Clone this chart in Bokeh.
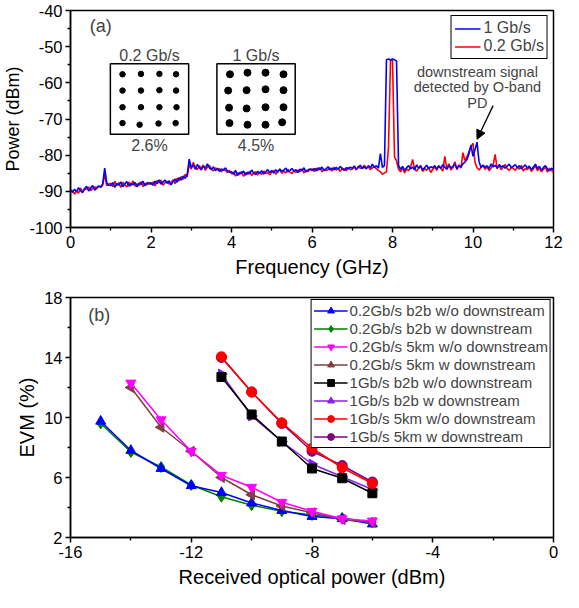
import numpy as np
from bokeh.plotting import figure
from bokeh.models import (Range1d, Legend, LegendItem, Label, Arrow, NormalHead, FixedTicker,
                          BoxAnnotation, PrintfTickFormatter)
from bokeh.layouts import column
from bokeh.embed import file_html
from bokeh.resources import INLINE

FONT = "Liberation Sans"

# ---------------- panel (a) data ----------------
freq_start, freq_step = 0.0, 0.05
blue_1g = [
    -89.6,-90.3,-89.4,-90.1,-89.0,-89.8,-90.4,-89.2,-88.6,-89.9,-89.1,-88.4,-89.7,-88.9,-88.5,-88.8,-87.9,-83.6,-87.6,-88.3,
    -88.4,-87.6,-88.9,-87.9,-88.3,-87.4,-88.7,-88.0,-87.3,-88.6,-87.8,-88.2,-87.5,-88.8,-87.7,-88.1,-87.2,-88.5,-87.6,-88.0,
    -87.6,-88.3,-87.2,-87.9,-86.8,-88.0,-87.4,-86.9,-87.8,-87.1,-88.2,-87.3,-86.6,-87.5,-86.2,-86.9,-85.8,-86.4,-85.3,-81.1,
    -83.4,-82.7,-83.9,-82.6,-83.4,-84.1,-83.0,-83.7,-82.4,-83.5,-84.0,-83.2,-84.3,-83.6,-84.5,-83.8,-84.2,-83.5,-84.4,-84.7,
    -84.6,-85.3,-84.2,-85.6,-84.8,-85.1,-84.4,-85.5,-84.7,-85.2,-84.1,-84.9,-85.4,-84.5,-85.0,-84.3,-85.2,-84.6,-84.0,-84.8,
    -84.3,-84.9,-84.0,-84.7,-83.8,-84.5,-84.1,-83.6,-84.6,-84.2,-83.7,-84.4,-84.0,-84.8,-83.9,-84.3,-83.5,-84.6,-84.1,-83.8,
    -84.2,-83.7,-84.4,-83.5,-84.0,-83.3,-84.3,-83.8,-83.2,-84.1,-83.6,-84.0,-83.4,-83.9,-83.1,-83.7,-84.2,-83.5,-83.8,-83.3,
    -83.6,-83.0,-83.9,-83.4,-82.8,-83.7,-83.2,-83.8,-82.9,-83.5,-82.5,-83.4,-82.9,-83.6,-79.6,-83.4,-82.9,-53.6,-53.4,-53.7,
    -53.4,-53.6,-54.0,-82.8,-83.9,-83.1,-84.2,-83.5,-82.9,-83.8,-83.3,-84.0,-82.7,-83.6,-83.1,-84.1,-83.4,-82.8,-83.7,-83.2,
    -83.5,-82.9,-83.8,-83.0,-83.6,-82.6,-83.4,-83.9,-82.8,-83.5,-83.1,-82.5,-83.7,-82.9,-83.3,-82.4,-81.9,-81.2,-79.6,-77.2,
    -80.3,-78.5,-76.4,-81.8,-83.4,-82.7,-83.4,-82.9,-83.7,-82.4,-83.2,-82.8,-83.5,-82.6,-83.3,-82.9,-83.6,-83.0,-82.5,-83.4,
    -83.1,-82.6,-83.5,-82.9,-83.8,-83.2,-82.7,-83.6,-83.0,-84.0,-83.3,-82.5,-83.7,-83.1,-84.2,-83.4,-82.9,-83.8,-84.3,-83.6,-84.1,
]
red_02g = [
    -90.2,-89.7,-90.8,-89.9,-90.5,-89.1,-90.0,-89.6,-89.3,-88.8,-89.8,-89.2,-88.7,-89.4,-88.6,-88.9,-88.3,-85.4,-88.4,-88.0,
    -87.8,-88.7,-87.2,-88.4,-87.6,-88.9,-87.5,-88.3,-88.8,-87.4,-88.5,-87.1,-88.6,-87.9,-88.4,-87.3,-88.7,-87.8,-88.2,-87.5,
    -88.1,-87.4,-88.5,-87.0,-87.7,-86.9,-88.3,-87.6,-87.2,-88.0,-87.5,-86.8,-87.9,-86.4,-87.1,-85.9,-86.7,-85.3,-86.0,-82.5,
    -83.9,-82.0,-83.4,-84.0,-82.9,-83.6,-82.7,-84.2,-83.3,-82.8,-83.8,-84.4,-83.5,-84.1,-83.7,-84.6,-83.9,-84.3,-84.8,-84.2,
    -85.2,-84.7,-85.8,-84.9,-85.4,-84.5,-85.9,-84.8,-85.3,-84.4,-85.6,-84.9,-84.6,-85.5,-84.7,-85.3,-84.4,-85.1,-84.8,-85.4,
    -84.8,-84.2,-85.3,-84.5,-84.0,-85.0,-84.4,-84.9,-83.9,-84.7,-85.1,-84.3,-84.8,-84.1,-84.6,-83.8,-84.9,-84.2,-84.5,-84.0,
    -83.8,-84.5,-83.6,-84.2,-83.4,-84.6,-83.9,-84.3,-84.0,-83.5,-84.4,-83.3,-84.1,-83.7,-84.5,-83.6,-83.9,-84.3,-83.4,-84.0,
    -83.9,-83.3,-84.1,-83.0,-83.7,-83.4,-82.8,-83.6,-83.2,-84.0,-83.5,-83.1,-83.8,-84.2,-84.6,-85.3,-84.9,-84.6,-78.0,-53.9,
    -53.5,-80.5,-81.6,-83.9,-84.6,-83.5,-84.9,-83.8,-84.3,-83.2,-81.2,-83.9,-84.4,-83.6,-82.8,-84.5,-83.7,-84.2,-83.3,-84.8,
    -83.9,-83.3,-84.2,-82.9,-83.7,-84.4,-80.3,-83.8,-82.4,-84.1,-83.5,-81.8,-84.0,-82.7,-83.6,-79.3,-81.5,-80.5,-79.0,-77.8,
    -76.7,-82.0,-83.5,-84.1,-83.4,-82.8,-83.9,-83.2,-84.3,-83.6,-82.7,-79.8,-83.8,-82.9,-84.0,-83.3,-82.6,-83.7,-84.2,-83.5,
    -83.6,-84.2,-83.3,-83.9,-82.8,-84.4,-83.7,-84.0,-83.2,-84.5,-83.8,-82.9,-84.3,-83.5,-84.6,-83.9,-83.4,-84.7,-83.6,-84.2,-84.8,
]
freq = np.round(freq_start + freq_step * np.arange(len(blue_1g)), 3)

# constellation points (normalized I/Q, 16-QAM)
const_02_i = [-3.0,-0.95,1.1,2.95, -3.0,-0.95,1.1,2.95, -3.0,-0.95,1.1,3.0, -3.0,-1.1,1.0,2.9]
const_02_q = [3.05,3.1,3.1,3.05, 1.05,1.05,1.1,1.05, -1.0,-1.0,-1.0,-1.0, -2.95,-3.15,-3.0,-2.95]
const_1_i = [-2.9,-0.95,1.05,3.05, -3.1,-1.05,1.05,3.05, -3.0,-1.05,1.05,3.05, -2.95,-0.95,1.05,2.9]
const_1_q = [3.05,3.25,3.25,3.05, 1.05,1.1,1.2,1.1, -1.05,-1.15,-1.0,-1.0, -2.95,-3.15,-3.15,-2.85]
evm_inset = ["2.6%", "4.5%"]
rate_inset = ["0.2 Gb/s", "1 Gb/s"]

top_xticks = [0, 2, 4, 6, 8, 10, 12]
top_xminor = [1, 3, 5, 7, 9, 11]
top_yticks = [-100, -90, -80, -70, -60, -50, -40]
top_yminor = [-95, -85, -75, -65, -55, -45]

# ---------------- panel (b) data ----------------
p_b2b_02 = [-15, -14, -13, -12, -11, -10, -9, -8, -7, -6]
p_5km_02 = [-14, -13, -12, -11, -10, -9, -8, -7, -6]
p_1g = [-11, -10, -9, -8, -7, -6]
evm_02_b2b_wo = [9.75, 7.8, 6.6, 5.45, 5.0, 4.3, 3.8, 3.4, 3.25, 2.9]
evm_02_b2b_w = [9.6, 7.7, 6.7, 5.5, 4.72, 4.15, 3.75, 3.5, 3.3, 3.0]
evm_02_5km_wo = [12.3, 9.85, 7.75, 6.15, 5.35, 4.35, 3.75, 3.25, 3.1]
evm_02_5km_w = [12.0, 9.35, 7.75, 6.0, 4.85, 4.1, 3.65, 3.2, 3.0]
evm_1_b2b_wo = [12.7, 10.2, 8.4, 6.6, 5.95, 4.95]
evm_1_b2b_w = [12.9, 10.1, 8.4, 6.9, 6.05, 5.2]
evm_1_5km_wo = [14.05, 11.7, 9.65, 7.95, 6.65, 5.6]
evm_1_5km_w = [14.0, 11.7, 9.6, 7.75, 6.8, 5.7]

bot_xticks = [-16, -12, -8, -4, 0]
bot_xminor = [-14, -10, -6, -2]
bot_yticks = [2, 6, 10, 14, 18]
bot_yminor = [4, 8, 12, 16]


def style(p, xlab_size, ylab_size):
    p.xgrid.visible = False
    p.ygrid.visible = False
    p.outline_line_color = "black"
    p.outline_line_width = 1.5
    p.outline_line_alpha = 1.0
    for ax in (p.xaxis[0], p.yaxis[0]):
        ax.axis_line_width = 1.5
        ax.axis_line_color = "black"
        ax.major_tick_line_width = 1.5
        ax.minor_tick_line_width = 1.3
        ax.major_tick_out = 5
        ax.major_tick_in = 0
        ax.minor_tick_out = 3
        ax.minor_tick_in = 0
        ax.major_label_text_font = FONT
        ax.major_label_text_font_size = "16.5px"
        ax.major_label_text_color = "black"
        ax.major_label_standoff = 3
        ax.axis_label_text_font = FONT
        ax.axis_label_text_font_style = "normal"
        ax.axis_label_text_color = "black"
        ax.formatter = PrintfTickFormatter(format="%d")
    p.xaxis[0].axis_label_text_font_size = xlab_size
    p.yaxis[0].axis_label_text_font_size = ylab_size
    p.xaxis[0].axis_label_standoff = 5
    p.yaxis[0].axis_label_standoff = 3


# ---------------- panel (a) ----------------
p1 = figure(frame_width=483, frame_height=217, min_border_left=68, min_border_right=11,
            min_border_top=10, min_border_bottom=57,
            x_range=Range1d(0, 12), y_range=Range1d(-100, -40),
            output_backend="svg", toolbar_location=None,
            x_axis_label="Frequency (GHz)", y_axis_label="Power (dBm)")
style(p1, "20px", "18px")
p1.xaxis.ticker = FixedTicker(ticks=top_xticks, minor_ticks=top_xminor)
p1.yaxis.ticker = FixedTicker(ticks=top_yticks, minor_ticks=top_yminor)

r_red = p1.line(freq, red_02g, line_color="#FF0000", line_width=1.6)
r_blue = p1.line(freq, blue_1g, line_color="#0000FF", line_width=1.6)

leg1 = Legend(items=[LegendItem(label="1 Gb/s", renderers=[r_blue]),
                     LegendItem(label="0.2 Gb/s", renderers=[r_red])],
              location="top_right", margin=5, padding=3, spacing=0,
              label_text_font=FONT, label_text_font_size="16px",
              glyph_width=26, glyph_height=15, label_height=15, label_standoff=3,
              border_line_color="black", border_line_width=1.5, border_line_alpha=1.0,
              background_fill_alpha=1.0)
p1.add_layout(leg1)

# constellation insets (layout: centre and scale in data units)
insets = [
    (1.963, 0.2236, const_02_i, const_02_q, 5.5),
    (4.61, 0.2236, const_1_i, const_1_q, 7),
]
cy, sy = -64.5, 2.25
for k, (cx, sx, ci, cq, dsz) in enumerate(insets):
    p1.add_layout(BoxAnnotation(left=cx - 4.35 * sx, right=cx + 4.35 * sx,
                                bottom=cy - 4.33 * sy, top=cy + 4.33 * sy,
                                fill_alpha=0, line_color="black", line_alpha=1.0,
                                line_width=1.5))
    xs = cx + sx * np.array(ci)
    ys = cy + sy * np.array(cq)
    p1.scatter(xs, ys, size=dsz, marker="circle", fill_color="black", line_color="black")
    p1.add_layout(Label(x=cx, y=-52.4, text=rate_inset[k], text_align="center",
                        text_baseline="middle", text_font=FONT, text_font_size="16px"))
    p1.add_layout(Label(x=cx, y=-77.4, text=evm_inset[k], text_align="center",
                        text_baseline="middle", text_font=FONT, text_font_size="16px"))

p1.add_layout(Label(x=0.75, y=-44.2, text="(a)", text_align="center", text_baseline="middle",
                    text_font=FONT, text_font_size="18px"))
for txt, yy in [("downstream signal", -56.9), ("detected by O-band", -61.2), ("PD", -65.5)]:
    p1.add_layout(Label(x=10.11, y=yy, text=txt, text_align="center", text_baseline="middle",
                        text_font=FONT, text_font_size="14.5px"))
p1.add_layout(Arrow(end=NormalHead(size=9, fill_color="black", line_color="black"),
                    x_start=10.5, y_start=-66.3, x_end=10.1, y_end=-75.6,
                    line_color="black", line_width=1.3))

# ---------------- panel (b) ----------------
p2 = figure(frame_width=483, frame_height=240, min_border_left=68, min_border_right=11,
            min_border_top=13, min_border_bottom=52,
            x_range=Range1d(-16, 0), y_range=Range1d(2, 18),
            output_backend="svg", toolbar_location=None,
            x_axis_label="Received optical power (dBm)", y_axis_label="EVM (%)")
style(p2, "20px", "20px")
p2.xaxis.ticker = FixedTicker(ticks=bot_xticks, minor_ticks=bot_xminor)
p2.yaxis.ticker = FixedTicker(ticks=bot_yticks, minor_ticks=bot_yminor)

series = [
    ("0.2Gb/s b2b w/o downstream", p_b2b_02, evm_02_b2b_wo, "#0000FF", "triangle", 0.0, 10),
    ("0.2Gb/s b2b w downstream", p_b2b_02, evm_02_b2b_w, "#008000", "diamond", 0.0, 11),
    ("0.2Gb/s 5km w/o downstream", p_5km_02, evm_02_5km_wo, "#FF00FF", "inverted_triangle", 0.0, 10),
    ("0.2Gb/s 5km w downstream", p_5km_02, evm_02_5km_w, "#804040", "triangle", np.pi / 2, 10),
    ("1Gb/s b2b w/o downstream", p_1g, evm_1_b2b_wo, "#000000", "square", 0.0, 9),
    ("1Gb/s b2b w downstream", p_1g, evm_1_b2b_w, "#8A1EF0", "triangle", -np.pi / 2, 10),
    ("1Gb/s 5km w/o downstream", p_1g, evm_1_5km_wo, "#FF0000", "circle", 0.0, 10),
    ("1Gb/s 5km w downstream", p_1g, evm_1_5km_w, "#800080", "circle", 0.0, 10),
]
draw_order = [1, 0, 3, 2, 5, 4, 7, 6]
rends = {}
for idx in draw_order:
    lab, xs, ys, col, mk, ang, sz = series[idx]
    rl = p2.line(xs, ys, line_color=col, line_width=1.5)
    rs = p2.scatter(xs, ys, marker=mk, angle=ang, size=sz, fill_color=col, line_color=col)
    rends[idx] = [rl, rs]

leg2 = Legend(items=[LegendItem(label=series[i][0], renderers=rends[i]) for i in range(len(series))],
              location="top_right", margin=2, padding=2, spacing=1,
              label_text_font=FONT, label_text_font_size="15px",
              glyph_width=34, glyph_height=17, label_height=17, label_standoff=2,
              border_line_color="black", border_line_width=1.5, border_line_alpha=1.0,
              background_fill_alpha=1.0)
p2.add_layout(leg2)
p2.add_layout(Label(x=-15.05, y=16.85, text="(b)", text_align="center", text_baseline="middle",
                    text_font=FONT, text_font_size="18px"))

layout = column(p1, p2, spacing=0)
open("out.html", "w").write(file_html(layout, INLINE))
